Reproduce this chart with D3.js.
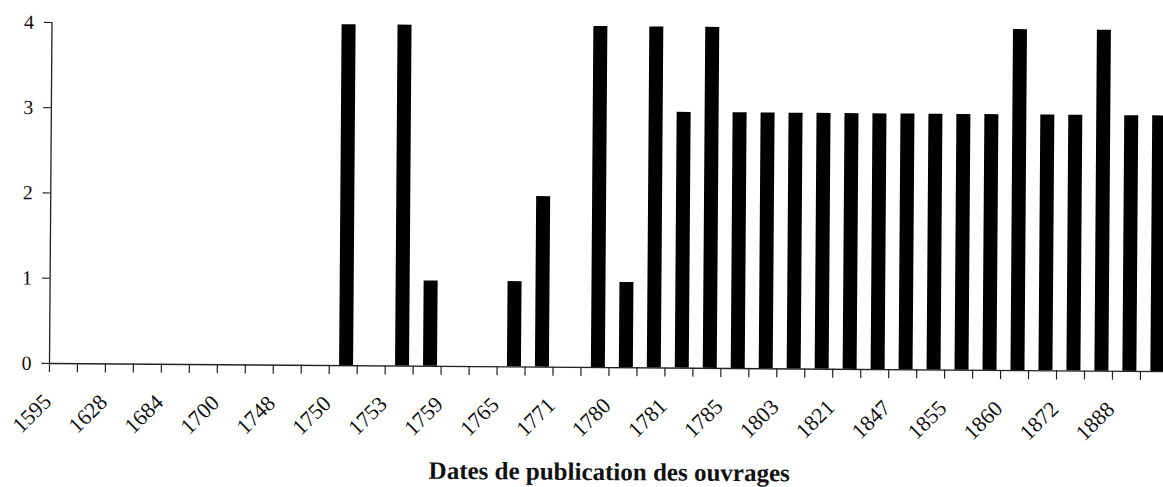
<!DOCTYPE html>
<html>
<head>
<meta charset="utf-8">
<script src="https://cdn.jsdelivr.net/npm/d3@7/dist/d3.min.js"></script>
<style>
    body { margin: 0; background: #fff; }
    svg { display: block; }
    text { font-family: "Liberation Serif", "Times New Roman", serif; fill: #111; }
    .yLabel { font-size: 20px; }
    .xLabel { font-size: 22px; }
    .title { font-size: 25px; font-weight: bold; }
</style>
</head>
<body>
<svg width="1163" height="487"></svg>
<script>
// one entry per bar slot, only every other year is printed on the axis
const yearLabels = ['1595','','1628','','1684','','1700','','1748','',
                    '1750','','1753','','1759','','1765','','1771','',
                    '1780','','1781','','1785','','1803','','1821','',
                    '1847','','1855','','1860','','1872','','1888',''];
const counts = [0,0,0,0,0,0,0,0,0,0,
                4,0,4,1,0,0,1,2,0,4,
                1,4,3,4,3,3,3,3,3,3,
                3,3,3,3,4,3,3,4,3,3];
const yTicks = [0,1,2,3,4];
const axisTitle = 'Dates de publication des ouvrages';

const svg = d3.select('svg');

const plotLeft = 49;
const plotRight = 1168;   // plot runs a little past the window edge
const plotTop = 22;
const plotBottom = 363;

// the scanned page is a touch crooked, so tilt everything slightly
const chart = svg.append('g')
    .attr('transform', `rotate(0.42, ${plotLeft}, ${plotBottom})`);

const idx = counts.map((d, i) => i);

const xScale = d3.scaleBand().domain(idx).range([plotLeft, plotRight]).padding(0);
const xTicks = d3.scaleLinear().domain([0, counts.length]).range([plotLeft, plotRight]);
const yScale = d3.scaleLinear().domain([0, 4]).range([plotBottom, plotTop]);

// bars sit a bit right of the slot centre, like the scan
const barW = 14;
chart.append('g')
    .selectAll('rect')
    .data(counts)
    .enter()
    .append('rect')
    .attr('x', (d, i) => xScale(i) + xScale.bandwidth() * 0.37)
    .attr('width', barW)
    .attr('y', d => yScale(d))
    .attr('height', d => yScale(0) - yScale(d))
    .attr('fill', '#000');

// y axis
const yAxis = chart.append('g')
    .attr('transform', `translate(${plotLeft + 0.5},0)`)
    .call(d3.axisLeft(yScale).tickValues(yTicks).tickFormat(d3.format('d')).tickSize(8).tickPadding(10));
yAxis.attr('font-family', null).attr('font-size', null);
yAxis.select('.domain').attr('stroke', '#222').attr('stroke-width', 1.3).attr('d', `M0,${plotTop}V${plotBottom}`);
yAxis.selectAll('line').attr('stroke', '#222').attr('stroke-width', 1.2);
yAxis.selectAll('text').attr('class', 'yLabel').attr('fill', null);

// x axis, ticks on the slot boundaries
const xAxis = chart.append('g')
    .attr('transform', `translate(0,${plotBottom})`)
    .call(d3.axisBottom(xTicks).ticks(counts.length).tickFormat('').tickSize(9).tickSizeOuter(0));
xAxis.select('.domain').attr('stroke', '#222').attr('stroke-width', 1.3);
xAxis.selectAll('line').attr('stroke', '#222').attr('stroke-width', 1.2);

chart.append('g')
    .selectAll('text')
    .data(yearLabels)
    .enter()
    .append('text')
    .attr('class', 'xLabel')
    .attr('text-anchor', 'end')
    .attr('transform', (d, i) => `translate(${xScale(i) + 4},${plotBottom + 40}) rotate(-45)`)
    .text(d => d);

chart.append('text')
    .attr('class', 'title')
    .attr('x', 610)
    .attr('y', 476)
    .attr('text-anchor', 'middle')
    .text(axisTitle);
</script>
</body>
</html>
